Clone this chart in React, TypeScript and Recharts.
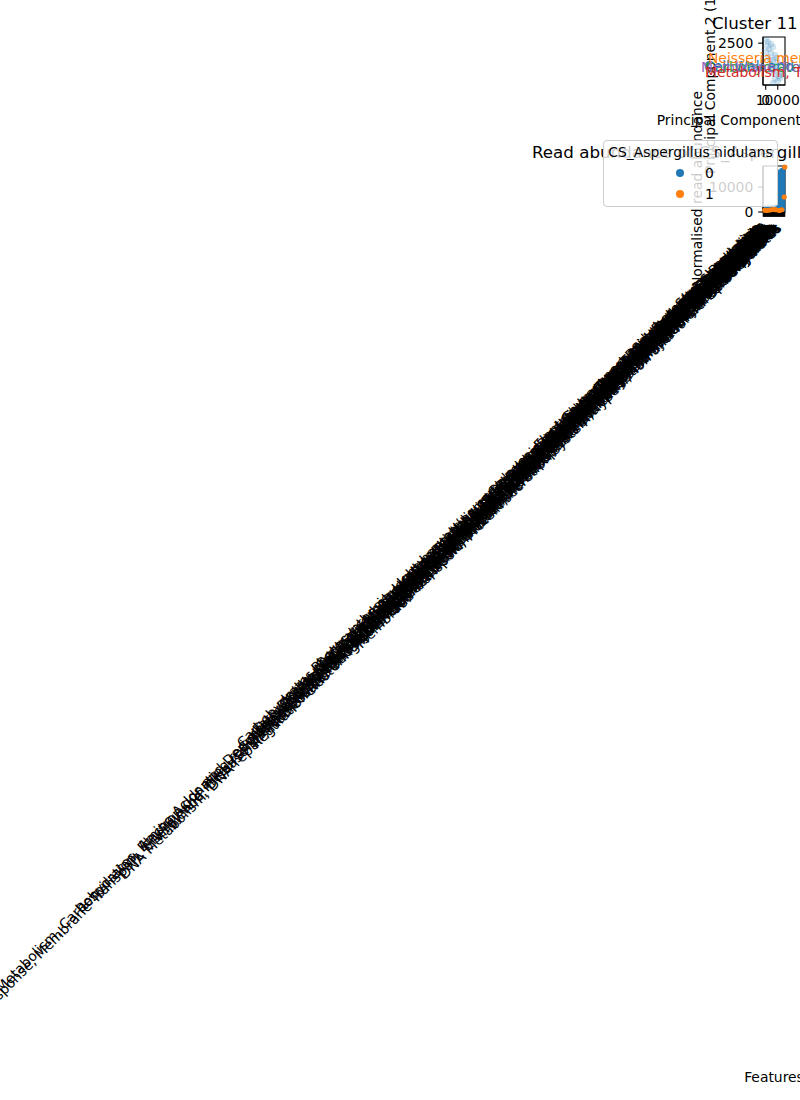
import React from 'react';
import {
  ScatterChart,
  Scatter,
  ComposedChart,
  Bar,
  XAxis,
  YAxis,
  ReferenceDot,
  ReferenceArea,
  Legend,
  Label,
} from 'recharts';

const FONT = '"DejaVu Sans", sans-serif';

// ---------- PCA scatter (Cluster 11) ----------
const pcTitle = 'Cluster 11 PCA';
const pcXLabel = 'Principal Component 1 (41.735%)';
const pcYLabel = 'Principal Component 2 (12.38%)';
const pc1 = [250, 1900, 4400, 6000, 2700, 250, 4400, 7700, 1900, 6000, 9400, 3600, 7700, 11000, 5200, 9400, 12700, 6900, 11000, 14300, 7700, 10200, 6000, 11900, 8500, 1100, 3600];
const pc2 = [2670, 2560, 2450, 2290, 2190, 2020, 1970, 1860, 1750, 1590, 1490, 1380, 1270, 1160, 1060, 1000, 950, 840, 730, 790, 570, 470, 360, 630, 1700, 2350, 1590];
const pcXTicks = [0, 10000];
const pcYTicks = [2500];
const pcXDomain = [-2250, 16000];
const pcYDomain = [250, 2830];

const annotLabels = ['Carbohydrates', 'Cell Wall and Capsule', 'Membrane Transport', 'Neisseria meningitidis', 'Metabolism, TCA cycle'];
const annotX = [-50400, -51200, -53700, -47900, -50400];
const annotY = [950, 1000, 950, 1430, 680];
const annotColors = ['#2ca02c', '#1f77b4', '#9467bd', '#ff7f0e', '#d62728'];

// ---------- Read abundance bar chart ----------
const barTitle = 'Read abundance of CS_Aspergillus nidulans in all features';
const barXLabel = 'Features';
const barYLabel = 'Normalised read abundance';
const features = [
  'Photosynthesis, Light-harvesting complexes, Electron transport and photophosphorylation',
  'Stress Response',
  'Carbohydrates, Central carbohydrate metabolism, Glycolysis and Gluconeogenesis, Pyruvate metabolism',
  'Dormancy and Sporulation',
  'Iron acquisition and metabolism, Siderophores, Siderophore Enterobactin',
  'Phages, Prophages, Transposable elements, Plasmids',
  'Fatty Acids, Lipids, and Isoprenoids, Phospholipids, Fatty acid metabolism, Triacylglycerols, Isoprenoids',
  'Cell Wall and Capsule',
  'Protein Metabolism, Protein biosynthesis, Translation elongation, Protein degradation, Proteasome',
  'Sulfur Metabolism, Organic sulfur assimilation',
  'Metabolism, Carbohydrates, Amino Acids and Derivatives, Cofactors, Vitamins, Prosthetic Groups, Pigments, Nucleosides and Nucleotides, RNA Metabolism',
  'Nitrogen Metabolism, Nitrate and nitrite ammonification',
  'Respiration, Electron donating reactions, Cell Wall and Capsule, Capsular and extracellular polysacchrides, Iron acquisition and metabolism',
  'Membrane Transport, ABC transporters, Sugar Phosphotransferase Systems, PTS',
  'Metabolism of Aromatic Compounds',
  'Cofactors, Vitamins, Prosthetic Groups, Pigments, Folate and pterines, Biotin, Coenzyme A, NAD and NADP',
  'Virulence',
  'RNA Metabolism, Transcription, RNA processing and modification, tRNA modification',
  'Motility and Chemotaxis, Flagellar motility in Prokaryota, Bacterial Chemotaxis, Social motility',
  'Protein Folding',
  'Stress Response, Membrane Transport, Energy and Precursor Metabolites Generation, Protein Metabolism, Regulation and Cell signaling, Phages, Prophages, Plasmids',
  'Amino Acids and Derivatives, Lysine, threonine, methionine, and cysteine, Branched-chain amino acids',
  'Cell Division and Cell Cycle',
  'Virulence, Disease and Defense, Resistance to antibiotics and toxic compounds, Multidrug Resistance Efflux Pumps, Invasion',
  'Oxidative stress',
  'Secondary Metabolism, Plant Hormones, Auxin biosynthesis, Bacterial cytostatics',
  'Nucleosides and Nucleotides, Purines, Pyrimidines',
  'Phosphorus Metabolism, Nitrogen Metabolism, Ammonia assimilation, Denitrification, Nitrogen fixation',
  'Potassium metabolism, Osmotic stress',
  'Miscellaneous, Plant-Prokaryote DOE project, Phosphoglycerate mutase protein family',
  'DNA Metabolism, DNA repair, Nucleosides and Nucleotides, Purines, Pyrimidines, Sulfur Metabolism, Thioredoxin-disulfide reductase',
  'Transposable elements',
  'Regulation and Cell signaling, Quorum sensing and biofilm formation, Two-component regulatory systems',
  'Heat shock',
  'Clustering-based subsystems, Cell Division and Cell Cycle, Sporulation, Cytochrome biogenesis',
  'Plasmid related functions',
  'Energy, Fermentation, Butanol Biosynthesis, Acetyl-CoA fermentation to Butyrate',
  'Cold shock',
  'Detoxification, Glutathione-dependent pathway of formaldehyde detoxification',
  'Respiration',
  'Iron acquisition, Heme, hemin uptake and utilization systems in GramPositives',
  'Fatty Acids',
  'Membrane Transport, Protein secretion system, Type II, Ton and Tol transport systems',
  'Carbohydrates',
];
const group0 = [1800, 2100, 1700, 2400, 2000, 2600, 1900, 2300, 2200, 2500, 2700, 2100, 2400, 2000, 2800, 2300, 2600, 2200, 2900, 2500, 2700, 2400, 2800, 2600, 2300, 2900, 2500, 2700, 2400, 2800, 16200, 16800, 17100, 16500, 17400, 17000, 17600, 17300, 17800, 17500, 17900, 18000, 18100, 18200];
const group1 = [null, null, null, 700, null, null, null, null, 600, null, null, null, null, null, 800, null, null, null, null, null, 1000, null, null, null, null, 900, null, null, null, null, null, null, 600, null, null, null, null, 900, null, null, null, null, 6000, 18000];
const barYTicks = [0, 10000];
const barYDomain = [0, 18400];
const legendTitle = 'CS_Aspergillus nidulans';
const legendLabels = ['0', '1'];
const legendColors = ['#1f77b4', '#ff7f0e'];

const pcData = pc1.map((x, i) => ({ x, y: pc2[i] }));
const barData = features.map((f, i) => ({ feature: f, g0: group0[i], g1: group1[i] }));

// ---------- layout ----------
const W = 800;
const H = 1100;
const PLOT_L = 763;
const PLOT_R = 785;
const PC_TOP = 37;
const PC_BOTTOM = 85;
const BC_TOP = 166;
const BC_BOTTOM = 212;
const Y_AXIS_W = 60;
const PC_X_AXIS_H = 40;
const BC_X_AXIS_H = 880;
const TICK = 4.86;
const LW = 1.1;

const tickStyle = { fill: '#000', fontSize: 13.9, fontFamily: FONT };

const titleContent = (text: string, plotTop: number) => (props: any) => {
  const vb = props.viewBox || {};
  return (
    <text x={vb.x + vb.width / 2} y={plotTop - 8.5} textAnchor="middle" fontSize={16.7} fontFamily={FONT} fill="#000">
      {text}
    </text>
  );
};

const xLabelContent = (text: string, baselineFromAxisTop: number) => (props: any) => {
  const vb = props.viewBox || {};
  return (
    <text x={vb.x + vb.width / 2} y={vb.y + baselineFromAxisTop} textAnchor="middle" fontSize={13.9} fontFamily={FONT} fill="#000">
      {text}
    </text>
  );
};

const yLabelContent = (text: string, distFromSpine: number) => (props: any) => {
  const vb = props.viewBox || {};
  const cx = vb.x + vb.width - distFromSpine;
  const cy = vb.y + vb.height / 2;
  return (
    <text
      x={cx}
      y={cy}
      transform={`rotate(-90 ${cx} ${cy})`}
      textAnchor="middle"
      dominantBaseline="central"
      fontSize={13.9}
      fontFamily={FONT}
      fill="#000"
    >
      {text}
    </text>
  );
};

const FeatureTick = (props: any) => {
  const { x, y, payload } = props;
  const ex = x - 2.3;
  const ey = y + 7.4;
  return (
    <text
      x={ex}
      y={ey}
      textAnchor="end"
      fill="#000"
      fontSize={13.9}
      fontFamily={FONT}
      transform={`rotate(-45 ${ex} ${ey})`}
    >
      {payload.value}
    </text>
  );
};

const renderLegend = () => (
  <div
    style={{
      position: 'relative',
      boxSizing: 'border-box',
      width: 175,
      height: 67,
      border: '1px solid #cccccc',
      borderRadius: 4,
      background: 'rgba(255,255,255,0.8)',
      fontFamily: FONT,
      fontSize: 13.9,
      color: '#000',
      lineHeight: '16px',
      textAlign: 'left',
    }}
  >
    <div style={{ position: 'absolute', left: 0, right: 0, top: 3, textAlign: 'center', whiteSpace: 'nowrap' }}>
      {legendTitle}
    </div>
    {legendLabels.map((lab, i) => (
      <div
        key={lab}
        style={{ position: 'absolute', left: 72, top: 24 + i * 21, height: 16, display: 'flex', alignItems: 'center' }}
      >
        <span
          style={{ display: 'inline-block', width: 8, height: 8, borderRadius: '50%', background: legendColors[i] }}
        />
        <span style={{ marginLeft: 21 }}>{lab}</span>
      </div>
    ))}
  </div>
);

function PcaChart() {
  return (
    <ScatterChart
      width={W}
      height={H}
      margin={{
        top: PC_TOP,
        right: W - PLOT_R,
        left: PLOT_L - Y_AXIS_W,
        bottom: H - PC_BOTTOM - PC_X_AXIS_H,
      }}
    >
      <XAxis
        xAxisId="b"
        type="number"
        dataKey="x"
        domain={pcXDomain}
        ticks={pcXTicks}
        interval={0}
        height={PC_X_AXIS_H}
        stroke="#000"
        strokeWidth={LW}
        tickSize={TICK}
        tickMargin={TICK}
        tick={tickStyle}
      >
        <Label content={xLabelContent(pcXLabel, 40)} />
        <Label content={titleContent(pcTitle, PC_TOP)} />
      </XAxis>
      <YAxis
        yAxisId="l"
        type="number"
        dataKey="y"
        domain={pcYDomain}
        ticks={pcYTicks}
        interval={0}
        width={Y_AXIS_W}
        stroke="#000"
        strokeWidth={LW}
        tickSize={TICK}
        tickMargin={TICK}
        tick={tickStyle}
      >
        <Label content={yLabelContent(pcYLabel, 53)} />
      </YAxis>
      <ReferenceArea
        xAxisId="b"
        yAxisId="l"
        x1={pcXDomain[0]}
        x2={pcXDomain[1]}
        y1={pcYDomain[0]}
        y2={pcYDomain[1]}
        fill="none"
        fillOpacity={0}
        stroke="#000"
        strokeWidth={LW}
        ifOverflow="visible"
      />
      <Scatter
        xAxisId="b"
        yAxisId="l"
        data={pcData}
        isAnimationActive={false}
        shape={(p: any) => <circle cx={p.cx} cy={p.cy} r={3.2} fill="#1f77b4" fillOpacity={0.2} />}
      />
      {annotLabels.map((name, i) => (
        <ReferenceDot
          key={name}
          xAxisId="b"
          yAxisId="l"
          x={annotX[i]}
          y={annotY[i]}
          ifOverflow="visible"
          shape={(p: any) => (
            <text x={p.cx} y={p.cy} fill={annotColors[i]} fontSize={13.9} fontFamily={FONT}>
              {name}
            </text>
          )}
        />
      ))}
    </ScatterChart>
  );
}

function AbundanceChart() {
  return (
    <ComposedChart
      width={W}
      height={H}
      data={barData}
      barCategoryGap={0}
      margin={{
        top: BC_TOP,
        right: W - PLOT_R,
        left: PLOT_L - Y_AXIS_W,
        bottom: H - BC_BOTTOM - BC_X_AXIS_H,
      }}
    >
      <XAxis
        xAxisId="b"
        dataKey="feature"
        type="category"
        interval={0}
        height={BC_X_AXIS_H}
        stroke="#000"
        strokeWidth={LW}
        tickSize={TICK}
        tickMargin={TICK}
        tick={<FeatureTick />}
      >
        <Label content={xLabelContent(barXLabel, 870)} />
        <Label content={titleContent(barTitle, BC_TOP)} />
      </XAxis>
      <YAxis
        yAxisId="l"
        type="number"
        domain={barYDomain}
        ticks={barYTicks}
        interval={0}
        width={Y_AXIS_W}
        stroke="#000"
        strokeWidth={LW}
        tickSize={TICK}
        tickMargin={TICK}
        tick={tickStyle}
      >
        <Label content={yLabelContent(barYLabel, 66)} />
      </YAxis>
      <Bar
        xAxisId="b"
        yAxisId="l"
        dataKey="g0"
        name="0"
        fill="#1f77b4"
        stroke="#1f77b4"
        strokeWidth={0.5}
        isAnimationActive={false}
      />
      <Scatter
        xAxisId="b"
        yAxisId="l"
        dataKey="g1"
        name="1"
        fill="#ff7f0e"
        isAnimationActive={false}
        shape={(p: any) =>
          p.payload && p.payload.g1 != null ? <circle cx={p.cx} cy={p.cy} r={2.6} fill="#ff7f0e" /> : <g />
        }
      />
      <ReferenceArea
        xAxisId="b"
        yAxisId="l"
        x1={features[0]}
        x2={features[features.length - 1]}
        y1={barYDomain[0]}
        y2={barYDomain[1]}
        fill="none"
        fillOpacity={0}
        stroke="#000"
        strokeWidth={LW}
        ifOverflow="visible"
      />
      <Legend
        content={renderLegend}
        layout="horizontal"
        verticalAlign="middle"
        align="center"
        wrapperStyle={{ left: 603, top: 140, width: 175, height: 67, margin: 0 }}
      />
    </ComposedChart>
  );
}

export default function App() {
  return (
    <div style={{ position: 'absolute', left: 0, top: 0, width: W, height: H, overflow: 'hidden', background: '#fff' }}>
      <div style={{ position: 'absolute', left: 0, top: 0 }}>
        <PcaChart />
      </div>
      <div style={{ position: 'absolute', left: 0, top: 0 }}>
        <AbundanceChart />
      </div>
    </div>
  );
}
